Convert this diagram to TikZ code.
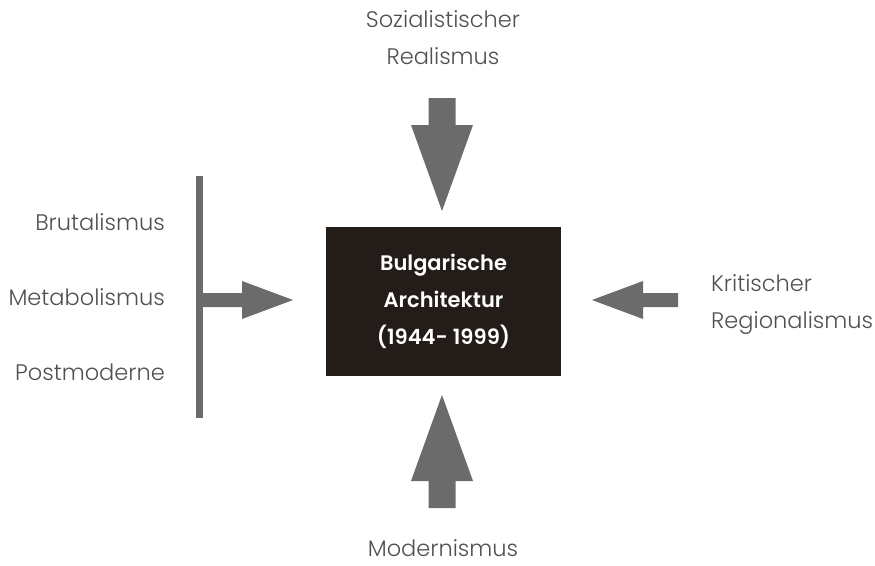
\documentclass[tikz,border=0pt]{standalone}
\usepackage{fontspec}
\setmainfont{Poppins}[UprightFont=* Light, BoldFont=* SemiBold]
\usetikzlibrary{positioning}

\definecolor{corebrown}{HTML}{241C19}
\definecolor{arrowgray}{HTML}{6B6B6B}
\definecolor{labelgray}{HTML}{505050}

\tikzset{
  stylelabel/.style={text=labelgray, inner sep=0pt, font=\fontsize{22.5}{37}\selectfont},
  corebox/.style={fill=corebrown, text=white, align=center, inner sep=0pt,
    minimum width=235pt, minimum height=149pt, font=\bfseries\fontsize{21}{37}\selectfont},
  fatarrow/.style={fill=arrowgray}
}

\begin{document}
\begin{tikzpicture}[x=1pt,y=-1pt]
  \useasboundingbox (0,0) rectangle (875,565);

  \node[corebox] (core) at (443.5,301.5) {Bulgarische\\Architektur\\(1944- 1999)};

  % labels
  \node[stylelabel, align=center, anchor=north] (sozreal) at (443,10) {Sozialistischer\\Realismus};
  \node[stylelabel, anchor=base] (modern) at (443,556.5) {Modernismus};
  \node[stylelabel, align=left, anchor=north west] (kritreg) at (711,274) {Kritischer\\Regionalismus};
  \node[stylelabel, anchor=north east] (brut) at (165,213) {Brutalismus};
  \node[stylelabel, anchor=north east] (metab) at (165,288) {Metabolismus};
  \node[stylelabel, anchor=north east] (postmod) at (165,364) {Postmoderne};

  % tips
  \coordinate (ttop) at (442,211);
  \coordinate (tbot) at (442,395);
  \coordinate (tleft) at (293,300);
  \coordinate (tright) at (592,300);

  % bar for the three styles
  \draw[arrowgray, line width=7pt] (199.5,176) -- (199.5,418);

  % arrows
  \fill[fatarrow, shift={(ttop)}] (0,0) -- (-31,-86) -- (-13.5,-86) -- (-13.5,-113)
    -- (13.5,-113) -- (13.5,-86) -- (31,-86) -- cycle;
  \fill[fatarrow, shift={(tbot)}] (0,0) -- (-31,86) -- (-13.5,86) -- (-13.5,113)
    -- (13.5,113) -- (13.5,86) -- (31,86) -- cycle;
  \fill[fatarrow, shift={(tleft)}] (0,0) -- (-51,-19) -- (-51,-7) -- (-90,-7)
    -- (-90,7) -- (-51,7) -- (-51,19) -- cycle;
  \fill[fatarrow, shift={(tright)}] (0,0) -- (51,-19) -- (51,-7) -- (86,-7)
    -- (86,7) -- (51,7) -- (51,19) -- cycle;
\end{tikzpicture}
\end{document}
